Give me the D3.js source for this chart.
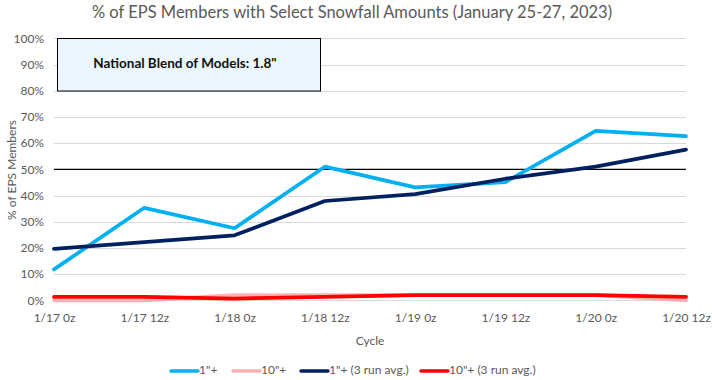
<!DOCTYPE html>
<html><head><meta charset="utf-8">
<script src="https://cdn.jsdelivr.net/npm/d3@7"></script>
<style>body{margin:0;background:#fff}svg{display:block}text{font-family:Lato,"Open Sans",sans-serif}</style>
</head><body><svg id="c" width="712" height="380"></svg>
<script>
const categories = ["1/17 0z","1/17 12z","1/18 0z","1/18 12z","1/19 0z","1/19 12z","1/20 0z","1/20 12z"];
const oneInch = [11.8, 35.3, 27.5, 51.0, 43.1, 45.1, 64.7, 62.7];
const tenInch = [0, 0, 1.96, 1.96, 1.96, 1.96, 1.96, 0];
const oneInchAvg = [19.6, 22.2, 24.8, 37.9, 40.5, 46.4, 51.0, 57.5];
const tenInchAvg = [1.3, 1.3, 0.65, 1.3, 1.96, 1.96, 1.96, 1.3];
const yTicks = [0,10,20,30,40,50,60,70,80,90,100];
const refValue = 50;
const seriesNames = ['1"+', '10"+', '1"+ (3 run avg.)', '10"+ (3 run avg.)'];
const seriesColors = ["#00B0F0", "#FFB1B1", "#002060", "#FF0000"];
const titleText = "% of EPS Members with Select Snowfall Amounts (January 25-27, 2023)";
const noteText = 'National Blend of Models: 1.8"';

const series = [oneInch, tenInch, oneInchAvg, tenInchAvg];
const svg = d3.select("#c");
const x = d3.scalePoint().domain(categories).range([54, 686]);
const y = d3.scaleLinear().domain([0, 100]).range([300.3, 38.3]);
const grey = "#595959";

// gridlines
svg.append("g").selectAll("line").data(yTicks).join("line")
  .attr("x1", 54).attr("x2", 686)
  .attr("y1", d => Math.round(y(d)) + 0.5).attr("y2", d => Math.round(y(d)) + 0.5)
  .attr("stroke", "#D9D9D9").attr("stroke-width", 1);

// y axis labels
const yAxis = d3.axisLeft(y).tickValues(yTicks).tickFormat(d => d + "%").tickSize(0).tickPadding(0);
const ga = svg.append("g").attr("transform", "translate(44,0)").call(yAxis);
ga.select(".domain").remove();
ga.selectAll("text").attr("fill", grey).style("font-size", "12px").style("font-family", "Lato");

// x axis labels
const xAxis = d3.axisBottom(x).tickSize(0).tickPadding(0);
const gx = svg.append("g").attr("transform", "translate(0,313)").call(xAxis);
gx.select(".domain").remove();
gx.selectAll("text").attr("fill", grey).style("font-size", "12px").style("font-family", "Lato");

// reference line at 50%
svg.append("line").attr("x1", 54).attr("x2", 686)
  .attr("y1", y(refValue)).attr("y2", y(refValue))
  .attr("stroke", "#000").attr("stroke-width", 1.3);

// series lines
const line = d3.line().x((d, i) => x(categories[i])).y(d => y(d));
series.forEach((s, k) => {
  svg.append("path").datum(s).attr("d", line).attr("fill", "none")
    .attr("stroke", seriesColors[k]).attr("stroke-width", 3.75)
    .attr("stroke-linejoin", "round").attr("stroke-linecap", "round");
});

// note box
svg.append("rect").attr("x", 57.5).attr("y", 38.5).attr("width", 263).attr("height", 52.5)
  .attr("fill", "#EBF7FD").attr("stroke", "#000").attr("stroke-width", 1);
svg.append("text").attr("x", 185).attr("y", 65).attr("text-anchor", "middle").attr("dominant-baseline", "middle")
  .style("font-size", "13.5px").style("font-weight", "bold").attr("fill", "#111").text(noteText);

// title
svg.append("text").attr("x", 352).attr("y", 14).attr("text-anchor", "middle").attr("dominant-baseline", "middle")
  .style("font-size", "16.5px").attr("fill", grey).text(titleText);

// axis titles
svg.append("text").attr("transform", "translate(13,170) rotate(-90)").attr("text-anchor", "middle")
  .attr("dominant-baseline", "middle").style("font-size", "12px").attr("fill", grey).text("% of EPS Members");
svg.append("text").attr("x", 370).attr("y", 342).attr("text-anchor", "middle").attr("dominant-baseline", "middle")
  .style("font-size", "12px").attr("fill", grey).text("Cycle");

// legend
const legX = [171, 233, 301, 421];
const lg = svg.append("g");
seriesNames.forEach((n, k) => {
  lg.append("line").attr("x1", legX[k]).attr("x2", legX[k] + 27).attr("y1", 371).attr("y2", 371)
    .attr("stroke", seriesColors[k]).attr("stroke-width", 3.5).attr("stroke-linecap", "round");
  lg.append("text").attr("x", legX[k] + 28).attr("y", 371).attr("dominant-baseline", "middle")
    .style("font-size", "12px").attr("fill", grey).text(n);
});
</script></body></html>
